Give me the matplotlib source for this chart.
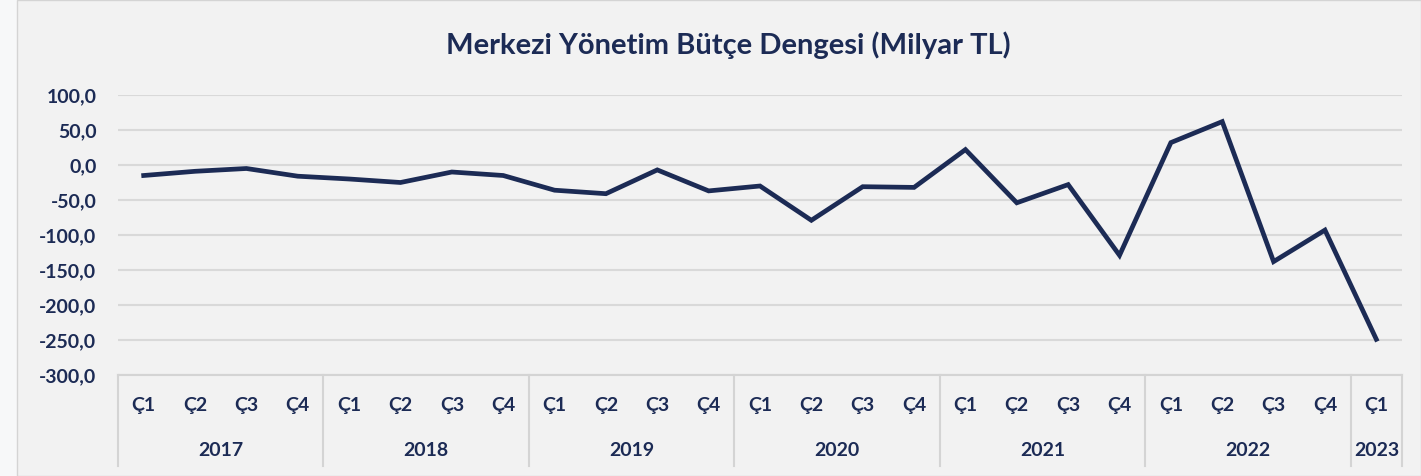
import matplotlib.pyplot as plt
from matplotlib.patches import Rectangle

# Merkezi Yönetim Bütçe Dengesi, çeyreklik (Milyar TL)
years = ["2017", "2018", "2019", "2020", "2021", "2022", "2023"]
quarters_per_year = [4, 4, 4, 4, 4, 4, 1]
quarter_labels = ["Ç1", "Ç2", "Ç3", "Ç4"]
values = [-15, -9, -5, -16,
          -20, -25, -10, -15,
          -36, -41, -7, -37,
          -30, -79, -31, -32,
          22, -54, -28, -129,
          32, 62, -138, -93,
          -249]
y_ticks = [100, 50, 0, -50, -100, -150, -200, -250, -300]

navy = "#1c2b55"
font = "Lato"
lab_size = 14

W, H = 1421, 476
fig = plt.figure(figsize=(W / 100, H / 100), dpi=100)
fig.patch.set_facecolor("#f7f8f9")
fig.patches.append(Rectangle((17 / W, 0), 1 - 17 / W, 1, transform=fig.transFigure,
                             facecolor="#f2f2f2", edgecolor="#d4d4d4", linewidth=1,
                             zorder=-5))

ax = fig.add_axes([118 / W, 1 - 375 / H, (1402 - 118) / W, (375 - 95) / H])
ax.set_facecolor("#f2f2f2")

x = list(range(len(values)))
ax.plot(x, values, color=navy, linewidth=3.4, solid_joinstyle="miter", zorder=3)

ax.set_xlim(-0.5, len(values) - 0.5)
ax.set_ylim(-300, 100)
ax.set_yticks(y_ticks)
ax.set_yticklabels([f"{v:.1f}".replace(".", ",") for v in y_ticks])
ax.tick_params(axis="y", length=0, pad=15.5, labelsize=lab_size, labelcolor=navy)
for lab in ax.get_yticklabels():
    lab.set_fontweight("bold")
    lab.set_fontfamily(font)
ax.grid(axis="y", color="#d9d9d9", linewidth=1.5)
ax.set_axisbelow(True)
for side in ["top", "right", "left"]:
    ax.spines[side].set_visible(False)
ax.spines["bottom"].set_color("#d4d4d4")
ax.spines["bottom"].set_linewidth(1.5)
ax.set_xticks([])

# iki seviyeli kategori ekseni
tr = ax.get_xaxis_transform()
sep_bottom = -(466 - 375) / (375 - 95)
q_y = -(406 - 375) / (375 - 95)
yr_y = -(451 - 375) / (375 - 95)
pos = 0
for yr, n in zip(years, quarters_per_year):
    ax.plot([pos - 0.5, pos - 0.5], [0, sep_bottom], transform=tr, clip_on=False,
            color="#d4d4d4", linewidth=1.5)
    for q in range(n):
        ax.text(pos + q, q_y, quarter_labels[q], transform=tr, ha="center", va="center",
                fontsize=lab_size, fontweight="bold", color=navy, family=font)
    ax.text(pos + (n - 1) / 2, yr_y, yr, transform=tr, ha="center", va="center",
            fontsize=lab_size, fontweight="bold", color=navy, family=font)
    pos += n
ax.plot([pos - 0.5, pos - 0.5], [0, sep_bottom], transform=tr, clip_on=False,
        color="#d4d4d4", linewidth=1.5)

fig.text(728 / W, 1 - 45 / H, "Merkezi Yönetim Bütçe Dengesi (Milyar TL)", ha="center",
         va="center", fontsize=21, fontweight="bold", color=navy, family=font)

fig.savefig("out.png", dpi=100, facecolor=fig.get_facecolor())
